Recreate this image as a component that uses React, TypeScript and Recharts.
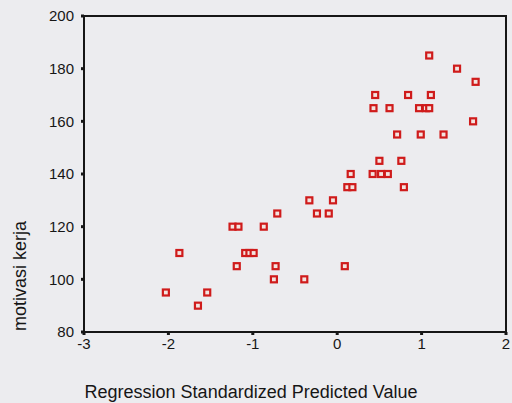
import React from 'react';
import { ScatterChart, Scatter, XAxis, YAxis, ReferenceArea } from 'recharts';

// standardized predicted value vs motivasi kerja
const predicted = [
  -2.03, -1.87, -1.65, -1.54, -1.24, -1.17, -1.19, -1.09, -1.04, -0.99,
  -0.87, -0.71, -0.73, -0.75, -0.39, -0.33, -0.24, -0.1, -0.05, 0.09,
  0.12, 0.18, 0.16, 0.42, 0.52, 0.6, 0.5, 0.76, 0.79, 0.71,
  0.99, 1.26, 1.61, 0.43, 0.62, 0.97, 1.05, 1.09, 0.45, 0.84,
  1.11, 1.09, 1.42, 1.64,
];
const motivasi = [
  95, 110, 90, 95, 120, 120, 105, 110, 110, 110,
  120, 125, 105, 100, 100, 130, 125, 125, 130, 105,
  135, 135, 140, 140, 140, 140, 145, 145, 135, 155,
  155, 155, 160, 165, 165, 165, 165, 165, 170, 170,
  170, 185, 180, 175,
];
const xTicks = [-3, -2, -1, 0, 1, 2];
const yTicks = [80, 100, 120, 140, 160, 180, 200];

const points = predicted.map((x, i) => ({ x, y: motivasi[i] }));

const FONT = '"Liberation Sans", Arial, sans-serif';
const INK = '#161616';

const SquareMarker = (props: any) => {
  const { cx, cy } = props;
  return <rect x={cx - 3} y={cy - 3} width={6} height={6} fill="#f3e4e0" stroke="#cf1b1b" strokeWidth={2.2} />;
};

const YTitle = () => (
  <text
    x={26}
    y={276}
    transform="rotate(-90 26 276)"
    textAnchor="middle"
    fontFamily={FONT}
    fontSize={18}
    fill={INK}
  >
    motivasi kerja
  </text>
);

const XTitle = () => (
  <text x={251} y={398} textAnchor="middle" fontFamily={FONT} fontSize={18} fill={INK}>
    Regression Standardized Predicted Value
  </text>
);

export default function App() {
  return (
    <div style={{ position: 'absolute', left: 0, top: 0, width: 512, height: 403, background: '#ececef' }}>
      <ScatterChart width={512} height={403} margin={{ top: 16, right: 6, bottom: 0, left: 0 }}>
        <XAxis
          type="number"
          dataKey="x"
          domain={[-3, 2]}
          ticks={xTicks}
          height={71}
          axisLine={{ stroke: INK, strokeWidth: 2 }}
          tickLine={{ stroke: INK, strokeWidth: 3 }}
          tickSize={3}
          tickMargin={3}
          tick={{ fontSize: 15, fill: INK, fontFamily: FONT }}
          label={<XTitle />}
        />
        <YAxis
          type="number"
          dataKey="y"
          domain={[80, 200]}
          ticks={yTicks}
          width={84}
          axisLine={{ stroke: INK, strokeWidth: 2 }}
          tickLine={{ stroke: INK, strokeWidth: 3 }}
          tickSize={3}
          tickMargin={7}
          tick={{ fontSize: 15, fill: INK, fontFamily: FONT }}
          label={<YTitle />}
        />
        <ReferenceArea x1={-3} x2={2} y1={80} y2={200} fill="none" stroke={INK} strokeWidth={2} ifOverflow="visible" />
        <Scatter data={points} shape={SquareMarker} isAnimationActive={false} />
      </ScatterChart>
    </div>
  );
}
